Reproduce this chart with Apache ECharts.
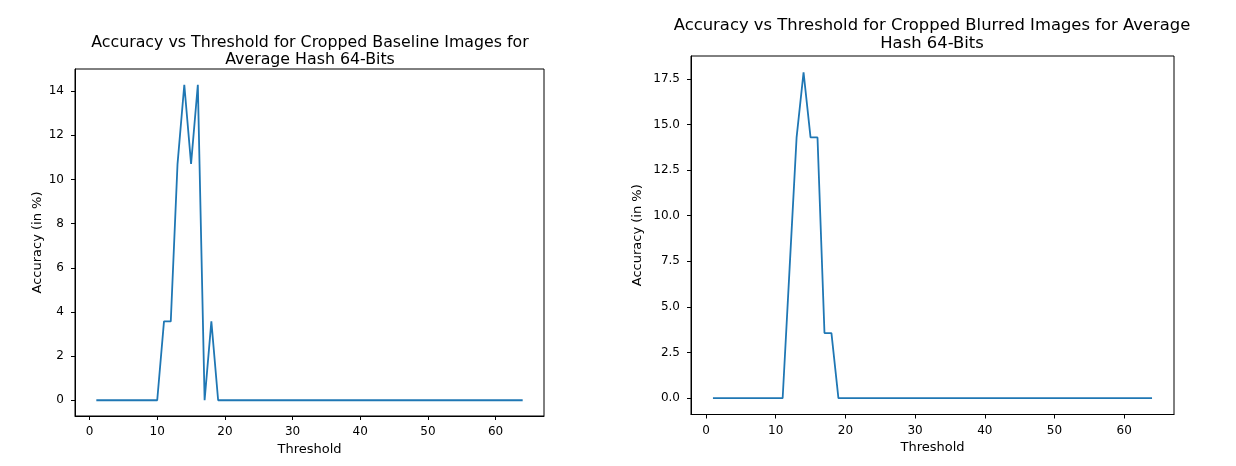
<!DOCTYPE html>
<html>
<head>
<meta charset="utf-8">
<script src="https://cdn.jsdelivr.net/npm/echarts@6/dist/echarts.min.js"></script>
<style>
html,body{margin:0;padding:0;background:#fff;}
#c{width:1236px;height:466px;}
</style>
</head>
<body>
<div id="c"></div>
<script>
// Data
const thresholds = [1,2,3,4,5,6,7,8,9,10,11,12,13,14,15,16,17,18,19,20,21,22,23,24,25,26,27,28,29,30,31,32,33,34,35,36,37,38,39,40,41,42,43,44,45,46,47,48,49,50,51,52,53,54,55,56,57,58,59,60,61,62,63,64];
const baselineAccuracy = [0,0,0,0,0,0,0,0,0,0,3.57,3.57,10.71,14.29,10.71,14.29,0,3.57,0,0,0,0,0,0,0,0,0,0,0,0,0,0,0,0,0,0,0,0,0,0,0,0,0,0,0,0,0,0,0,0,0,0,0,0,0,0,0,0,0,0,0,0,0,0];
const blurredAccuracy = [0,0,0,0,0,0,0,0,0,0,0,7.14,14.29,17.86,14.29,14.29,3.57,3.57,0,0,0,0,0,0,0,0,0,0,0,0,0,0,0,0,0,0,0,0,0,0,0,0,0,0,0,0,0,0,0,0,0,0,0,0,0,0,0,0,0,0,0,0,0,0];
const xTicks = [0,10,20,30,40,50,60];
const yTicksLeft = [0,2,4,6,8,10,12,14];
const yTicksRight = [0,2.5,5,7.5,10,12.5,15,17.5];
const titleLeft = 'Accuracy vs Threshold for Cropped Baseline Images for\nAverage Hash 64-Bits';
const titleRight = 'Accuracy vs Threshold for Cropped Blurred Images for Average\nHash 64-Bits';

const FONT = 'DejaVu Sans';
const lineColor = '#1f77b4';

function pairs(xs, ys){ return xs.map((x,i)=>[x, ys[i]]); }

function xAxisCfg(gi, nameGap){
  return {
    type:'value', gridIndex:gi, min:-2.15, max:67.15,
    name:'Threshold', nameLocation:'middle', nameGap:nameGap,
    nameTextStyle:{fontFamily:FONT,fontSize:13,color:'#000'},
    axisLine:{show:true, onZero:false, lineStyle:{color:'#000',width:1}},
    splitLine:{show:false},
    axisTick:{show:true, length:4, lineStyle:{color:'#000'}, customValues:xTicks},
    axisLabel:{fontFamily:FONT,fontSize:12,color:'#000',margin:10, customValues:xTicks}
  };
}
function yAxisCfg(gi, min, max, ticks, fmt, gap){
  return {
    type:'value', gridIndex:gi, min:min, max:max,
    name:'Accuracy (in %)', nameLocation:'middle', nameGap:gap,
    nameTextStyle:{fontFamily:FONT,fontSize:13,color:'#000'},
    axisLine:{show:true, onZero:false, lineStyle:{color:'#000',width:1}},
    splitLine:{show:false},
    axisTick:{show:true, length:4, lineStyle:{color:'#000'}, customValues:ticks},
    axisLabel:{fontFamily:FONT,fontSize:12,color:'#000',margin:11, customValues:ticks, formatter:fmt}
  };
}

const chart = echarts.init(document.getElementById('c'));
chart.setOption({
  backgroundColor:'#fff',
  animation:false,
  title:[
    {text:titleLeft, left:305, top:29, textAlign:'center',
     textStyle:{fontFamily:FONT,fontSize:15.8,fontWeight:'normal',color:'#000',lineHeight:17}},
    {text:titleRight, left:927, top:12, textAlign:'center',
     textStyle:{fontFamily:FONT,fontSize:16.4,fontWeight:'normal',color:'#000',lineHeight:18}}
  ],
  grid:[
    {left:75, top:69, width:469, height:347, show:true, borderColor:'#000', borderWidth:1, backgroundColor:'transparent'},
    {left:691, top:56, width:483, height:358.5, show:true, borderColor:'#000', borderWidth:1, backgroundColor:'transparent'}
  ],
  xAxis:[xAxisCfg(0, 27), xAxisCfg(1, 27)],
  yAxis:[
    yAxisCfg(0, -0.7145, 15.0045, yTicksLeft, v=>String(v), 31),
    yAxisCfg(1, -0.893, 18.753, yTicksRight, v=>v.toFixed(1), 47)
  ],
  series:[
    {type:'line', xAxisIndex:0, yAxisIndex:0, data:pairs(thresholds, baselineAccuracy),
     showSymbol:false, lineStyle:{color:lineColor,width:1.8}, itemStyle:{color:lineColor}},
    {type:'line', xAxisIndex:1, yAxisIndex:1, data:pairs(thresholds, blurredAccuracy),
     showSymbol:false, lineStyle:{color:lineColor,width:1.8}, itemStyle:{color:lineColor}}
  ]
});
</script>
</body>
</html>
